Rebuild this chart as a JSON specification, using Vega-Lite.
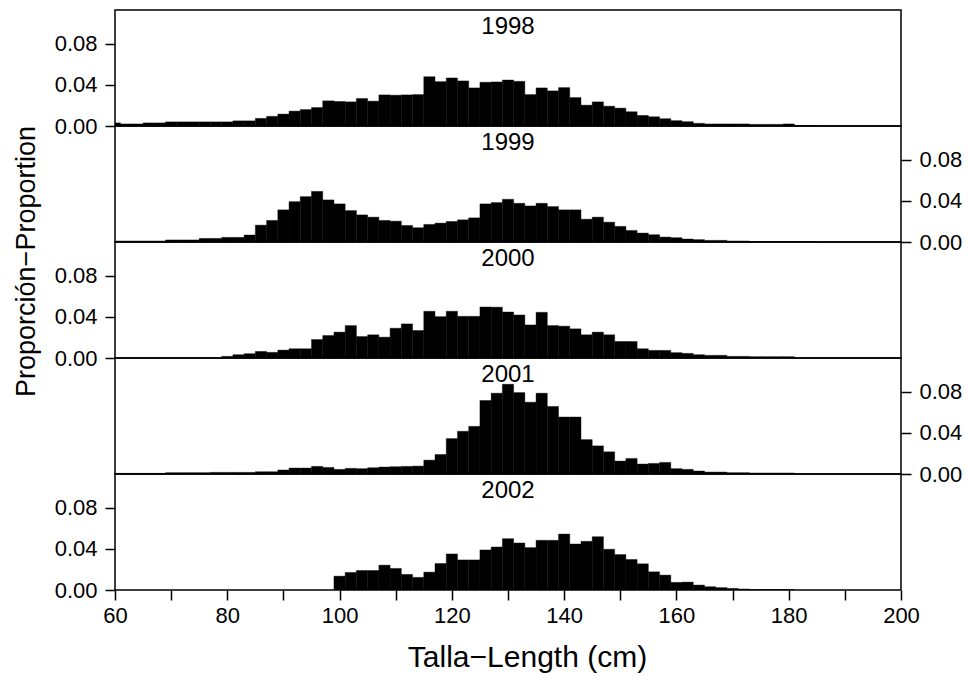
{
  "$schema": "https://vega.github.io/schema/vega-lite/v6.json",
  "padding": {"left": 11, "top": 9, "right": 0, "bottom": 0},
  "spacing": 0,
  "bounds": "flush",
  "config": {
    "font": "Liberation Sans",
    "view": {"stroke": "black", "strokeWidth": 1.5},
    "concat": {"spacing": 0},
    "axis": {"labelFont": "Liberation Sans", "labelFontSize": 22, "labelColor": "black", "tickColor": "black", "tickWidth": 1.5, "domain": false, "grid": false, "titleFont": "Liberation Sans", "titleFontSize": 27, "titleFontWeight": "normal", "titleColor": "black", "labelOverlap": false, "labelFlush": false},
    "text": {"font": "Liberation Sans", "fontSize": 24, "fill": "black", "baseline": "alphabetic", "align": "center"}
  },
  "data": {"values": [
    {"year":1998,"lo":59,"hi":61,"p":0.003},{"year":1998,"lo":61,"hi":63,"p":0.002},{"year":1998,"lo":63,"hi":65,"p":0.002},{"year":1998,"lo":65,"hi":67,"p":0.003},{"year":1998,"lo":67,"hi":69,"p":0.003},{"year":1998,"lo":69,"hi":71,"p":0.004},{"year":1998,"lo":71,"hi":73,"p":0.004},{"year":1998,"lo":73,"hi":75,"p":0.004},{"year":1998,"lo":75,"hi":77,"p":0.004},{"year":1998,"lo":77,"hi":79,"p":0.004},{"year":1998,"lo":79,"hi":81,"p":0.004},{"year":1998,"lo":81,"hi":83,"p":0.005},{"year":1998,"lo":83,"hi":85,"p":0.005},{"year":1998,"lo":85,"hi":87,"p":0.0074},{"year":1998,"lo":87,"hi":89,"p":0.0094},{"year":1998,"lo":89,"hi":91,"p":0.0116},{"year":1998,"lo":91,"hi":93,"p":0.0145},{"year":1998,"lo":93,"hi":95,"p":0.016},{"year":1998,"lo":95,"hi":97,"p":0.018},{"year":1998,"lo":97,"hi":99,"p":0.0245},{"year":1998,"lo":99,"hi":101,"p":0.0239},{"year":1998,"lo":101,"hi":103,"p":0.0235},{"year":1998,"lo":103,"hi":105,"p":0.0268},{"year":1998,"lo":105,"hi":107,"p":0.0242},{"year":1998,"lo":107,"hi":109,"p":0.0303},{"year":1998,"lo":109,"hi":111,"p":0.030},{"year":1998,"lo":111,"hi":113,"p":0.0303},{"year":1998,"lo":113,"hi":115,"p":0.0306},{"year":1998,"lo":115,"hi":117,"p":0.048},{"year":1998,"lo":117,"hi":119,"p":0.0432},{"year":1998,"lo":119,"hi":121,"p":0.0468},{"year":1998,"lo":121,"hi":123,"p":0.0439},{"year":1998,"lo":123,"hi":125,"p":0.0371},{"year":1998,"lo":125,"hi":127,"p":0.0426},{"year":1998,"lo":127,"hi":129,"p":0.0429},{"year":1998,"lo":129,"hi":131,"p":0.0448},{"year":1998,"lo":131,"hi":133,"p":0.0435},{"year":1998,"lo":133,"hi":135,"p":0.0306},{"year":1998,"lo":135,"hi":137,"p":0.0371},{"year":1998,"lo":137,"hi":139,"p":0.0342},{"year":1998,"lo":139,"hi":141,"p":0.0374},{"year":1998,"lo":141,"hi":143,"p":0.0277},{"year":1998,"lo":143,"hi":145,"p":0.0203},{"year":1998,"lo":145,"hi":147,"p":0.0235},{"year":1998,"lo":147,"hi":149,"p":0.0193},{"year":1998,"lo":149,"hi":151,"p":0.0174},{"year":1998,"lo":151,"hi":153,"p":0.0139},{"year":1998,"lo":153,"hi":155,"p":0.0103},{"year":1998,"lo":155,"hi":157,"p":0.009},{"year":1998,"lo":157,"hi":159,"p":0.0071},{"year":1998,"lo":159,"hi":161,"p":0.0052},{"year":1998,"lo":161,"hi":163,"p":0.0042},{"year":1998,"lo":163,"hi":165,"p":0.0026},{"year":1998,"lo":165,"hi":167,"p":0.002},{"year":1998,"lo":167,"hi":169,"p":0.002},{"year":1998,"lo":169,"hi":171,"p":0.002},{"year":1998,"lo":171,"hi":173,"p":0.002},{"year":1998,"lo":173,"hi":175,"p":0.0016},{"year":1998,"lo":175,"hi":177,"p":0.0016},{"year":1998,"lo":177,"hi":179,"p":0.0016},{"year":1998,"lo":179,"hi":181,"p":0.002},{"year":1998,"lo":181,"hi":183,"p":0.0005},{"year":1998,"lo":183,"hi":185,"p":0.0005},
    {"year":1999,"lo":59,"hi":61,"p":0.001},{"year":1999,"lo":61,"hi":63,"p":0.001},{"year":1999,"lo":63,"hi":65,"p":0.001},{"year":1999,"lo":65,"hi":67,"p":0.001},{"year":1999,"lo":67,"hi":69,"p":0.001},{"year":1999,"lo":69,"hi":71,"p":0.002},{"year":1999,"lo":71,"hi":73,"p":0.002},{"year":1999,"lo":73,"hi":75,"p":0.002},{"year":1999,"lo":75,"hi":77,"p":0.0035},{"year":1999,"lo":77,"hi":79,"p":0.0035},{"year":1999,"lo":79,"hi":81,"p":0.0045},{"year":1999,"lo":81,"hi":83,"p":0.0045},{"year":1999,"lo":83,"hi":85,"p":0.0068},{"year":1999,"lo":85,"hi":87,"p":0.0164},{"year":1999,"lo":87,"hi":89,"p":0.021},{"year":1999,"lo":89,"hi":91,"p":0.0313},{"year":1999,"lo":91,"hi":93,"p":0.0393},{"year":1999,"lo":93,"hi":95,"p":0.0442},{"year":1999,"lo":95,"hi":97,"p":0.0493},{"year":1999,"lo":97,"hi":99,"p":0.041},{"year":1999,"lo":99,"hi":101,"p":0.0371},{"year":1999,"lo":101,"hi":103,"p":0.0306},{"year":1999,"lo":103,"hi":105,"p":0.0264},{"year":1999,"lo":105,"hi":107,"p":0.0242},{"year":1999,"lo":107,"hi":109,"p":0.021},{"year":1999,"lo":109,"hi":111,"p":0.0203},{"year":1999,"lo":111,"hi":113,"p":0.0161},{"year":1999,"lo":113,"hi":115,"p":0.0139},{"year":1999,"lo":115,"hi":117,"p":0.0171},{"year":1999,"lo":117,"hi":119,"p":0.0184},{"year":1999,"lo":119,"hi":121,"p":0.020},{"year":1999,"lo":121,"hi":123,"p":0.0216},{"year":1999,"lo":123,"hi":125,"p":0.0235},{"year":1999,"lo":125,"hi":127,"p":0.0371},{"year":1999,"lo":127,"hi":129,"p":0.0384},{"year":1999,"lo":129,"hi":131,"p":0.0416},{"year":1999,"lo":131,"hi":133,"p":0.0377},{"year":1999,"lo":133,"hi":135,"p":0.0351},{"year":1999,"lo":135,"hi":137,"p":0.0377},{"year":1999,"lo":137,"hi":139,"p":0.0345},{"year":1999,"lo":139,"hi":141,"p":0.0313},{"year":1999,"lo":141,"hi":143,"p":0.0313},{"year":1999,"lo":143,"hi":145,"p":0.0222},{"year":1999,"lo":145,"hi":147,"p":0.0242},{"year":1999,"lo":147,"hi":149,"p":0.0193},{"year":1999,"lo":149,"hi":151,"p":0.0152},{"year":1999,"lo":151,"hi":153,"p":0.0113},{"year":1999,"lo":153,"hi":155,"p":0.0087},{"year":1999,"lo":155,"hi":157,"p":0.0071},{"year":1999,"lo":157,"hi":159,"p":0.0048},{"year":1999,"lo":159,"hi":161,"p":0.0042},{"year":1999,"lo":161,"hi":163,"p":0.0029},{"year":1999,"lo":163,"hi":165,"p":0.0023},{"year":1999,"lo":165,"hi":167,"p":0.0016},{"year":1999,"lo":167,"hi":169,"p":0.0016},{"year":1999,"lo":169,"hi":171,"p":0.001},{"year":1999,"lo":171,"hi":173,"p":0.001},{"year":1999,"lo":173,"hi":175,"p":0.0005},{"year":1999,"lo":175,"hi":177,"p":0.0005},{"year":1999,"lo":177,"hi":179,"p":0.0005},{"year":1999,"lo":179,"hi":181,"p":0.0005},{"year":1999,"lo":181,"hi":183,"p":0.0005},{"year":1999,"lo":183,"hi":185,"p":0.0005},
    {"year":2000,"lo":79,"hi":81,"p":0.0016},{"year":2000,"lo":81,"hi":83,"p":0.0032},{"year":2000,"lo":83,"hi":85,"p":0.0042},{"year":2000,"lo":85,"hi":87,"p":0.0064},{"year":2000,"lo":87,"hi":89,"p":0.0055},{"year":2000,"lo":89,"hi":91,"p":0.0077},{"year":2000,"lo":91,"hi":93,"p":0.009},{"year":2000,"lo":93,"hi":95,"p":0.009},{"year":2000,"lo":95,"hi":97,"p":0.018},{"year":2000,"lo":97,"hi":99,"p":0.0219},{"year":2000,"lo":99,"hi":101,"p":0.0252},{"year":2000,"lo":101,"hi":103,"p":0.0316},{"year":2000,"lo":103,"hi":105,"p":0.0209},{"year":2000,"lo":105,"hi":107,"p":0.0226},{"year":2000,"lo":107,"hi":109,"p":0.0203},{"year":2000,"lo":109,"hi":111,"p":0.029},{"year":2000,"lo":111,"hi":113,"p":0.0332},{"year":2000,"lo":113,"hi":115,"p":0.0268},{"year":2000,"lo":115,"hi":117,"p":0.0455},{"year":2000,"lo":117,"hi":119,"p":0.0403},{"year":2000,"lo":119,"hi":121,"p":0.0455},{"year":2000,"lo":121,"hi":123,"p":0.0406},{"year":2000,"lo":123,"hi":125,"p":0.0406},{"year":2000,"lo":125,"hi":127,"p":0.0497},{"year":2000,"lo":127,"hi":129,"p":0.0495},{"year":2000,"lo":129,"hi":131,"p":0.0448},{"year":2000,"lo":131,"hi":133,"p":0.0419},{"year":2000,"lo":133,"hi":135,"p":0.0322},{"year":2000,"lo":135,"hi":137,"p":0.0445},{"year":2000,"lo":137,"hi":139,"p":0.0316},{"year":2000,"lo":139,"hi":141,"p":0.031},{"year":2000,"lo":141,"hi":143,"p":0.0284},{"year":2000,"lo":143,"hi":145,"p":0.0226},{"year":2000,"lo":145,"hi":147,"p":0.0252},{"year":2000,"lo":147,"hi":149,"p":0.0226},{"year":2000,"lo":149,"hi":151,"p":0.0161},{"year":2000,"lo":151,"hi":153,"p":0.0161},{"year":2000,"lo":153,"hi":155,"p":0.009},{"year":2000,"lo":155,"hi":157,"p":0.0074},{"year":2000,"lo":157,"hi":159,"p":0.0074},{"year":2000,"lo":159,"hi":161,"p":0.0052},{"year":2000,"lo":161,"hi":163,"p":0.0045},{"year":2000,"lo":163,"hi":165,"p":0.0032},{"year":2000,"lo":165,"hi":167,"p":0.0026},{"year":2000,"lo":167,"hi":169,"p":0.0026},{"year":2000,"lo":169,"hi":171,"p":0.0016},{"year":2000,"lo":171,"hi":173,"p":0.0016},{"year":2000,"lo":173,"hi":175,"p":0.0013},{"year":2000,"lo":175,"hi":177,"p":0.0013},{"year":2000,"lo":177,"hi":179,"p":0.0013},{"year":2000,"lo":179,"hi":181,"p":0.0013},
    {"year":2001,"lo":59,"hi":61,"p":0.0006},{"year":2001,"lo":61,"hi":63,"p":0.0006},{"year":2001,"lo":63,"hi":65,"p":0.0006},{"year":2001,"lo":65,"hi":67,"p":0.0006},{"year":2001,"lo":67,"hi":69,"p":0.0006},{"year":2001,"lo":69,"hi":71,"p":0.0013},{"year":2001,"lo":71,"hi":73,"p":0.0013},{"year":2001,"lo":73,"hi":75,"p":0.0013},{"year":2001,"lo":75,"hi":77,"p":0.0013},{"year":2001,"lo":77,"hi":79,"p":0.0016},{"year":2001,"lo":79,"hi":81,"p":0.0016},{"year":2001,"lo":81,"hi":83,"p":0.0016},{"year":2001,"lo":83,"hi":85,"p":0.0016},{"year":2001,"lo":85,"hi":87,"p":0.0022},{"year":2001,"lo":87,"hi":89,"p":0.0022},{"year":2001,"lo":89,"hi":91,"p":0.0039},{"year":2001,"lo":91,"hi":93,"p":0.0058},{"year":2001,"lo":93,"hi":95,"p":0.0058},{"year":2001,"lo":95,"hi":97,"p":0.0074},{"year":2001,"lo":97,"hi":99,"p":0.0064},{"year":2001,"lo":99,"hi":101,"p":0.0045},{"year":2001,"lo":101,"hi":103,"p":0.0055},{"year":2001,"lo":103,"hi":105,"p":0.0052},{"year":2001,"lo":105,"hi":107,"p":0.0061},{"year":2001,"lo":107,"hi":109,"p":0.0068},{"year":2001,"lo":109,"hi":111,"p":0.0071},{"year":2001,"lo":111,"hi":113,"p":0.0074},{"year":2001,"lo":113,"hi":115,"p":0.0077},{"year":2001,"lo":115,"hi":117,"p":0.0135},{"year":2001,"lo":117,"hi":119,"p":0.019},{"year":2001,"lo":119,"hi":121,"p":0.0345},{"year":2001,"lo":121,"hi":123,"p":0.0416},{"year":2001,"lo":123,"hi":125,"p":0.0464},{"year":2001,"lo":125,"hi":127,"p":0.0716},{"year":2001,"lo":127,"hi":129,"p":0.0787},{"year":2001,"lo":129,"hi":131,"p":0.0874},{"year":2001,"lo":131,"hi":133,"p":0.0793},{"year":2001,"lo":133,"hi":135,"p":0.070},{"year":2001,"lo":135,"hi":137,"p":0.0787},{"year":2001,"lo":137,"hi":139,"p":0.0658},{"year":2001,"lo":139,"hi":141,"p":0.0555},{"year":2001,"lo":141,"hi":143,"p":0.0555},{"year":2001,"lo":143,"hi":145,"p":0.0335},{"year":2001,"lo":145,"hi":147,"p":0.0274},{"year":2001,"lo":147,"hi":149,"p":0.0216},{"year":2001,"lo":149,"hi":151,"p":0.0126},{"year":2001,"lo":151,"hi":153,"p":0.0152},{"year":2001,"lo":153,"hi":155,"p":0.0097},{"year":2001,"lo":155,"hi":157,"p":0.0103},{"year":2001,"lo":157,"hi":159,"p":0.0113},{"year":2001,"lo":159,"hi":161,"p":0.0052},{"year":2001,"lo":161,"hi":163,"p":0.0045},{"year":2001,"lo":163,"hi":165,"p":0.0029},{"year":2001,"lo":165,"hi":167,"p":0.0019},{"year":2001,"lo":167,"hi":169,"p":0.0019},{"year":2001,"lo":169,"hi":171,"p":0.0013},{"year":2001,"lo":171,"hi":173,"p":0.0013},{"year":2001,"lo":173,"hi":175,"p":0.001},{"year":2001,"lo":175,"hi":177,"p":0.001},{"year":2001,"lo":177,"hi":179,"p":0.001},{"year":2001,"lo":179,"hi":181,"p":0.001},
    {"year":2002,"lo":99,"hi":101,"p":0.0135},{"year":2002,"lo":101,"hi":103,"p":0.0171},{"year":2002,"lo":103,"hi":105,"p":0.019},{"year":2002,"lo":105,"hi":107,"p":0.019},{"year":2002,"lo":107,"hi":109,"p":0.0242},{"year":2002,"lo":109,"hi":111,"p":0.021},{"year":2002,"lo":111,"hi":113,"p":0.0152},{"year":2002,"lo":113,"hi":115,"p":0.0123},{"year":2002,"lo":115,"hi":117,"p":0.0174},{"year":2002,"lo":117,"hi":119,"p":0.0258},{"year":2002,"lo":119,"hi":121,"p":0.0351},{"year":2002,"lo":121,"hi":123,"p":0.0293},{"year":2002,"lo":123,"hi":125,"p":0.0293},{"year":2002,"lo":125,"hi":127,"p":0.039},{"year":2002,"lo":127,"hi":129,"p":0.0419},{"year":2002,"lo":129,"hi":131,"p":0.050},{"year":2002,"lo":131,"hi":133,"p":0.0458},{"year":2002,"lo":133,"hi":135,"p":0.0413},{"year":2002,"lo":135,"hi":137,"p":0.0484},{"year":2002,"lo":137,"hi":139,"p":0.0484},{"year":2002,"lo":139,"hi":141,"p":0.0545},{"year":2002,"lo":141,"hi":143,"p":0.0448},{"year":2002,"lo":143,"hi":145,"p":0.0474},{"year":2002,"lo":145,"hi":147,"p":0.0519},{"year":2002,"lo":147,"hi":149,"p":0.0397},{"year":2002,"lo":149,"hi":151,"p":0.0345},{"year":2002,"lo":151,"hi":153,"p":0.0297},{"year":2002,"lo":153,"hi":155,"p":0.0255},{"year":2002,"lo":155,"hi":157,"p":0.0177},{"year":2002,"lo":157,"hi":159,"p":0.0145},{"year":2002,"lo":159,"hi":161,"p":0.0074},{"year":2002,"lo":161,"hi":163,"p":0.0077},{"year":2002,"lo":163,"hi":165,"p":0.0048},{"year":2002,"lo":165,"hi":167,"p":0.0032},{"year":2002,"lo":167,"hi":169,"p":0.0023},{"year":2002,"lo":169,"hi":171,"p":0.0016},{"year":2002,"lo":171,"hi":173,"p":0.001},{"year":2002,"lo":173,"hi":175,"p":0.0005},{"year":2002,"lo":175,"hi":177,"p":0.0005},{"year":2002,"lo":177,"hi":179,"p":0.0005},{"year":2002,"lo":179,"hi":181,"p":0.0005}
  ]},
  "vconcat": [
    {
      "width": 786, "height": 116,
      "layer": [
        {"transform": [{"filter": "datum.year == 1998"}], "mark": {"type": "bar", "color": "black", "stroke": "black", "strokeWidth": 0.4, "clip": true},
         "encoding": {
          "x": {"field": "lo", "type": "quantitative", "scale": {"domain": [60, 200], "nice": false, "zero": false}, "axis": null},
          "x2": {"field": "hi"},
          "y": {"field": "p", "type": "quantitative", "scale": {"domain": [0, 0.113], "nice": false}, "axis": {"orient": "left", "title": null, "values": [0, 0.02, 0.04, 0.06, 0.08], "labelExpr": "(datum.value == 0.02 || datum.value == 0.06) ? '' : format(datum.value, '.2f')", "tickSize": {"condition": {"test": "datum.value == 0.02 || datum.value == 0.06", "value": 5}, "value": 10}, "labelPadding": 8}},
          "y2": {"datum": 0}}},
        {"data": {"values": [{"label": "1998", "lx": 130, "ly": 0.0901}]}, "mark": {"type": "text"},
         "encoding": {"x": {"field": "lx", "type": "quantitative"}, "y": {"field": "ly", "type": "quantitative"}, "text": {"field": "label"}}}
      ]
    },
    {
      "width": 786, "height": 116,
      "layer": [
        {"transform": [{"filter": "datum.year == 1999"}], "mark": {"type": "bar", "color": "black", "stroke": "black", "strokeWidth": 0.4, "clip": true},
         "encoding": {
          "x": {"field": "lo", "type": "quantitative", "scale": {"domain": [60, 200], "nice": false, "zero": false}, "axis": null},
          "x2": {"field": "hi"},
          "y": {"field": "p", "type": "quantitative", "scale": {"domain": [0, 0.113], "nice": false}, "axis": {"orient": "right", "title": null, "values": [0, 0.02, 0.04, 0.06, 0.08], "labelExpr": "(datum.value == 0.02 || datum.value == 0.06) ? '' : format(datum.value, '.2f')", "tickSize": {"condition": {"test": "datum.value == 0.02 || datum.value == 0.06", "value": 5}, "value": 10}, "labelPadding": 8}},
          "y2": {"datum": 0}}},
        {"data": {"values": [{"label": "1999", "lx": 130, "ly": 0.0901}]}, "mark": {"type": "text"},
         "encoding": {"x": {"field": "lx", "type": "quantitative"}, "y": {"field": "ly", "type": "quantitative"}, "text": {"field": "label"}}}
      ]
    },
    {
      "width": 786, "height": 116,
      "layer": [
        {"transform": [{"filter": "datum.year == 2000"}], "mark": {"type": "bar", "color": "black", "stroke": "black", "strokeWidth": 0.4, "clip": true},
         "encoding": {
          "x": {"field": "lo", "type": "quantitative", "scale": {"domain": [60, 200], "nice": false, "zero": false}, "axis": null},
          "x2": {"field": "hi"},
          "y": {"field": "p", "type": "quantitative", "scale": {"domain": [0, 0.113], "nice": false}, "axis": {"orient": "left", "title": "Proporción−Proportion", "titleY": 19, "titlePadding": 14, "values": [0, 0.02, 0.04, 0.06, 0.08], "labelExpr": "(datum.value == 0.02 || datum.value == 0.06) ? '' : format(datum.value, '.2f')", "tickSize": {"condition": {"test": "datum.value == 0.02 || datum.value == 0.06", "value": 5}, "value": 10}, "labelPadding": 8}},
          "y2": {"datum": 0}}},
        {"data": {"values": [{"label": "2000", "lx": 130, "ly": 0.0901}]}, "mark": {"type": "text"},
         "encoding": {"x": {"field": "lx", "type": "quantitative"}, "y": {"field": "ly", "type": "quantitative"}, "text": {"field": "label"}}}
      ]
    },
    {
      "width": 786, "height": 116,
      "layer": [
        {"transform": [{"filter": "datum.year == 2001"}], "mark": {"type": "bar", "color": "black", "stroke": "black", "strokeWidth": 0.4, "clip": true},
         "encoding": {
          "x": {"field": "lo", "type": "quantitative", "scale": {"domain": [60, 200], "nice": false, "zero": false}, "axis": null},
          "x2": {"field": "hi"},
          "y": {"field": "p", "type": "quantitative", "scale": {"domain": [0, 0.113], "nice": false}, "axis": {"orient": "right", "title": null, "values": [0, 0.02, 0.04, 0.06, 0.08], "labelExpr": "(datum.value == 0.02 || datum.value == 0.06) ? '' : format(datum.value, '.2f')", "tickSize": {"condition": {"test": "datum.value == 0.02 || datum.value == 0.06", "value": 5}, "value": 10}, "labelPadding": 8}},
          "y2": {"datum": 0}}},
        {"data": {"values": [{"label": "2001", "lx": 130, "ly": 0.0901}]}, "mark": {"type": "text"},
         "encoding": {"x": {"field": "lx", "type": "quantitative"}, "y": {"field": "ly", "type": "quantitative"}, "text": {"field": "label"}}}
      ]
    },
    {
      "width": 786, "height": 116,
      "layer": [
        {"transform": [{"filter": "datum.year == 2002"}], "mark": {"type": "bar", "color": "black", "stroke": "black", "strokeWidth": 0.4, "clip": true},
         "encoding": {
          "x": {"field": "lo", "type": "quantitative", "scale": {"domain": [60, 200], "nice": false, "zero": false}, "axis": {"title": "Talla−Length (cm)", "titleFontSize": 30, "titleX": 412, "values": [60, 70, 80, 90, 100, 110, 120, 130, 140, 150, 160, 170, 180, 190, 200], "labelExpr": "datum.value % 20 == 0 ? format(datum.value, 'd') : ''", "tickSize": 10, "labelPadding": 5, "titlePadding": 16}},
          "x2": {"field": "hi"},
          "y": {"field": "p", "type": "quantitative", "scale": {"domain": [0, 0.113], "nice": false}, "axis": {"orient": "left", "title": null, "values": [0, 0.02, 0.04, 0.06, 0.08], "labelExpr": "(datum.value == 0.02 || datum.value == 0.06) ? '' : format(datum.value, '.2f')", "tickSize": {"condition": {"test": "datum.value == 0.02 || datum.value == 0.06", "value": 5}, "value": 10}, "labelPadding": 8}},
          "y2": {"datum": 0}}},
        {"data": {"values": [{"label": "2002", "lx": 130, "ly": 0.0901}]}, "mark": {"type": "text"},
         "encoding": {"x": {"field": "lx", "type": "quantitative"}, "y": {"field": "ly", "type": "quantitative"}, "text": {"field": "label"}}}
      ]
    }
  ]
}
